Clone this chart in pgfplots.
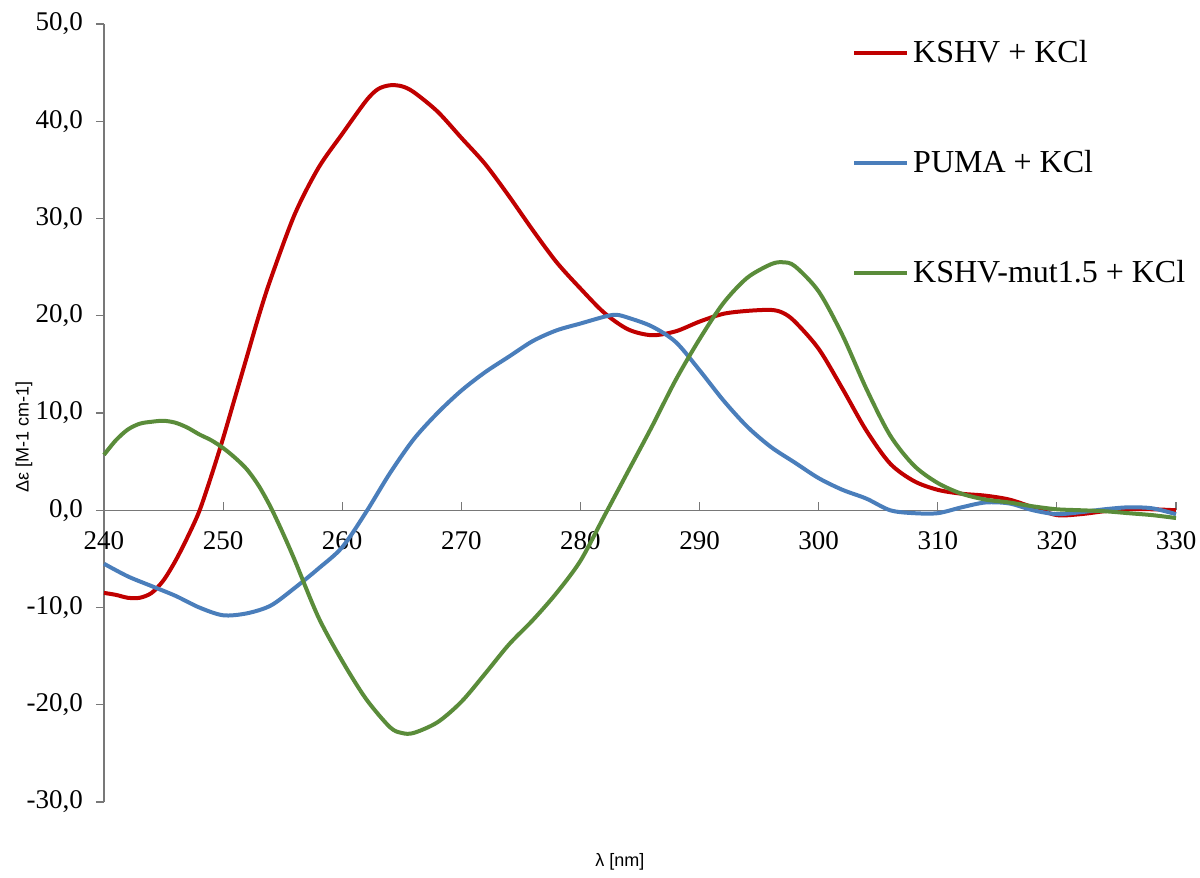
\documentclass[border=0pt]{standalone}
\usepackage{fontspec}
\setmainfont{Liberation Serif}
\setsansfont{Liberation Sans}
\usepackage{pgfplots}
\pgfplotsset{compat=1.18}
\definecolor{cred}{RGB}{192,0,0}
\definecolor{cblue}{RGB}{74,126,187}
\definecolor{cgreen}{RGB}{90,140,58}
\definecolor{caxis}{RGB}{120,120,120}
\begin{document}
\begin{tikzpicture}
\path[use as bounding box] (0,0) rectangle (600pt,439pt);
\begin{axis}[
 at={(52pt,38pt)}, anchor=south west,
 scale only axis, width=536pt, height=389pt,
 xmin=240, xmax=330, ymin=-30, ymax=50,
 axis x line*=middle, axis y line*=left,
 hide obscured x ticks=false,
 axis line style={caxis, line width=0.6pt},
 xtick={240,250,...,330}, ytick={-30,-20,...,50},
 minor tick num=0,
 tick align=center, major tick length=8pt,
 x tick style={caxis, line width=0.6pt, yshift=2pt, /pgfplots/major tick length=4pt},
 y tick style={caxis, line width=0.6pt, xshift=-2pt, /pgfplots/major tick length=4pt},
 /pgf/number format/assume math mode=true,
 ticklabel style={font=\fontsize{13.5}{15}\selectfont},
 yticklabel style={/pgf/number format/fixed, /pgf/number format/fixed zerofill, /pgf/number format/precision=1, /pgf/number format/use comma, xshift=-3pt},
 xticklabel style={yshift=-3pt},
 xlabel={\sffamily λ [nm]},
 ylabel={\sffamily Δε [M-1 cm-1]},
 label style={font=\fontsize{9}{11}\selectfont},
 xlabel style={at={(axis description cs:0.4813,0)}, anchor=center, yshift=-30pt},
 ylabel style={at={(axis description cs:-0.0746,0.469)}, anchor=center},
 legend cell align=left,
 legend style={draw=none, fill=none, font=\fontsize{16}{19}\selectfont, at={(rel axis cs:0.692,0.99)}, anchor=north west, row sep=38.5pt},
 legend image code/.code={\draw[#1] (0pt,0pt) -- (26.5pt,0pt);},
 every axis plot/.append style={line width=2pt, smooth},
 clip=false,
]
\addplot[cred] coordinates {
(240,-8.5)(241,-8.7)(242,-9.0)(243,-9.0)(244,-8.5)(245,-7.2)(246,-5.2)(247,-2.8)(248,-0.1)(249,3.5)(250,7.4)(251,11.6)(252,15.8)(253,20.0)(254,23.8)(256,30.4)(258,35.2)(260,38.7)(262,42.1)(263,43.3)(264,43.7)(265,43.6)(266,43.0)(268,41.0)(270,38.3)(272,35.6)(274,32.3)(276,28.8)(278,25.5)(280,22.8)(282,20.3)(284,18.6)(286,18.0)(288,18.4)(290,19.4)(292,20.2)(294,20.5)(296,20.6)(297,20.3)(298,19.4)(300,16.6)(302,12.5)(304,8.2)(306,4.8)(308,3.0)(310,2.1)(312,1.7)(314,1.5)(316,1.1)(318,0.3)(320,-0.5)(322,-0.4)(324,-0.1)(326,0.1)(328,0.1)(330,0.0)
};
\addlegendentry{KSHV + KCl}
\addplot[cblue] coordinates {
(240,-5.5)(242,-6.8)(244,-7.8)(246,-8.8)(248,-10.0)(250,-10.8)(252,-10.6)(254,-9.8)(256,-8.0)(258,-6.0)(260,-3.8)(262,-0.2)(264,3.8)(266,7.3)(268,10.0)(270,12.3)(272,14.2)(274,15.8)(276,17.4)(278,18.5)(280,19.2)(282,19.9)(283,20.1)(284,19.8)(286,18.9)(288,17.3)(290,14.4)(292,11.3)(294,8.6)(296,6.5)(298,4.9)(300,3.3)(302,2.1)(304,1.2)(306,0.0)(308,-0.3)(310,-0.3)(312,0.3)(314,0.8)(316,0.7)(318,0.0)(320,-0.4)(322,-0.2)(324,0.1)(326,0.3)(328,0.2)(330,-0.4)
};
\addlegendentry{PUMA + KCl}
\addplot[cgreen] coordinates {
(240,5.7)(241,7.2)(242,8.3)(243,8.9)(244,9.1)(245,9.2)(246,9.0)(247,8.5)(248,7.8)(249,7.2)(250,6.4)(251,5.4)(252,4.2)(253,2.5)(254,0.3)(255,-2.3)(256,-5.1)(258,-11.0)(260,-15.5)(262,-19.4)(264,-22.3)(265,-22.9)(266,-22.9)(268,-21.8)(270,-19.7)(272,-16.8)(274,-13.8)(276,-11.3)(278,-8.5)(280,-5.2)(282,-0.6)(284,4.0)(286,8.6)(288,13.4)(290,17.6)(292,21.3)(294,23.9)(296,25.3)(297,25.5)(298,25.1)(300,22.5)(302,18.0)(304,12.5)(306,7.7)(308,4.6)(310,2.8)(312,1.7)(314,1.1)(316,0.8)(318,0.4)(320,0.1)(322,0.0)(324,-0.1)(326,-0.3)(328,-0.5)(330,-0.8)
};
\addlegendentry{KSHV-mut1.5 + KCl}
\end{axis}
\end{tikzpicture}
\end{document}
